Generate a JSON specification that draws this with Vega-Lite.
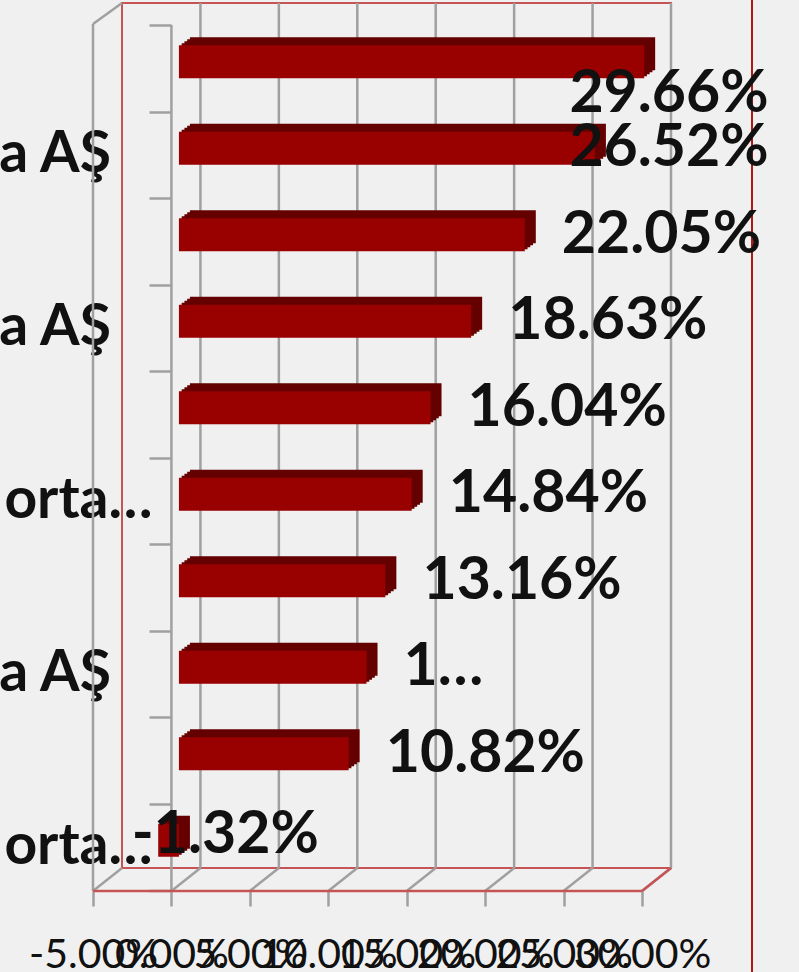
{
  "$schema": "https://vega.github.io/schema/vega-lite/v6.json",
  "width": 549,
  "height": 865,
  "autosize": {"type": "none"},
  "padding": {"left": 122, "top": 3, "right": 128, "bottom": 104},
  "background": "#f0f0f0",
  "config": {"view": {"stroke": "#c65454", "strokeWidth": 2}, "font": "Lato"},
  "datasets": {
    "getiri": [
      {"rank": 1, "deger": 0.2966, "etiket": "29.66%"},
      {"rank": 2, "deger": 0.2652, "etiket": "26.52%"},
      {"rank": 3, "deger": 0.2205, "etiket": "22.05%"},
      {"rank": 4, "deger": 0.1863, "etiket": "18.63%"},
      {"rank": 5, "deger": 0.1604, "etiket": "16.04%"},
      {"rank": 6, "deger": 0.1484, "etiket": "14.84%"},
      {"rank": 7, "deger": 0.1316, "etiket": "13.16%"},
      {"rank": 8, "deger": 0.1196, "etiket": "1…"},
      {"rank": 9, "deger": 0.1082, "etiket": "10.82%"},
      {"rank": 10, "deger": -0.0132, "etiket": "-1.32%"}
    ],
    "izgara": [
      {"v": -0.05}, {"v": 0}, {"v": 0.05}, {"v": 0.1}, {"v": 0.15}, {"v": 0.2}, {"v": 0.25}, {"v": 0.3}
    ],
    "tek": [{"k": 1}]
  },
  "layer": [
    {
      "layer": [
        {
          "data": {"name": "izgara"},
          "transform": [{"filter": "datum.v > -0.04"}],
          "mark": {"type": "rule", "color": "#a0a0a0", "strokeWidth": 2.5},
          "encoding": {"x": {"field": "v", "type": "quantitative"}}
        },
        {
          "data": {"name": "izgara"},
          "mark": {"type": "rule", "color": "#a0a0a0", "strokeWidth": 2.5, "xOffset": -29, "x2Offset": 0, "yOffset": 23, "y2Offset": 0},
          "encoding": {
            "x": {"field": "v", "type": "quantitative"},
            "x2": {"field": "v"},
            "y": {"value": "height"},
            "y2": {"value": "height"}
          }
        },
        {
          "data": {"name": "tek"},
          "mark": {"type": "rule", "color": "#c65454", "strokeWidth": 2.5, "xOffset": -29, "x2Offset": 0, "yOffset": 23, "y2Offset": 0},
          "encoding": {
            "x": {"datum": 0.3, "type": "quantitative"},
            "x2": {"datum": 0.3},
            "y": {"value": "height"},
            "y2": {"value": "height"}
          }
        },
        {
          "data": {"name": "tek"},
          "mark": {"type": "rule", "color": "#a0a0a0", "strokeWidth": 2.5, "xOffset": -29, "yOffset": 21, "y2Offset": 23},
          "encoding": {
            "x": {"datum": -0.05, "type": "quantitative"},
            "y": {"value": 0},
            "y2": {"value": "height"}
          }
        },
        {
          "data": {"name": "tek"},
          "mark": {"type": "rule", "color": "#a0a0a0", "strokeWidth": 2.5, "xOffset": -29, "x2Offset": 0, "yOffset": 21, "y2Offset": 0},
          "encoding": {
            "x": {"datum": -0.05, "type": "quantitative"},
            "x2": {"datum": -0.05},
            "y": {"value": 0},
            "y2": {"value": 0}
          }
        },
        {
          "data": {"name": "tek"},
          "mark": {"type": "rule", "color": "#a0a0a0", "strokeWidth": 2.5, "xOffset": -29, "yOffset": 22, "y2Offset": 23},
          "encoding": {
            "x": {"datum": 0, "type": "quantitative"},
            "y": {"value": 0},
            "y2": {"value": "height"}
          }
        },
        {
          "data": {"name": "tek"},
          "mark": {"type": "rule", "color": "#a0a0a0", "strokeWidth": 2.5, "xOffset": -51, "x2Offset": -29, "yOffset": 23, "y2Offset": 23},
          "encoding": {
            "x": {"datum": 0, "type": "quantitative"},
            "x2": {"datum": 0},
            "y": {"value": "height"},
            "y2": {"value": "height"}
          }
        },
        {
          "data": {"name": "tek"},
          "mark": {"type": "rule", "color": "#c65454", "strokeWidth": 2.5, "xOffset": -29, "x2Offset": -29, "yOffset": 23, "y2Offset": 23},
          "encoding": {
            "x": {"datum": -0.05, "type": "quantitative"},
            "x2": {"datum": 0.3},
            "y": {"value": "height"},
            "y2": {"value": "height"}
          }
        },
        {
          "data": {"name": "tek"},
          "mark": {"type": "rule", "color": "#b01818", "strokeWidth": 2, "xOffset": 81, "x2Offset": 81, "yOffset": -3, "y2Offset": 104},
          "encoding": {
            "x": {"value": "width"},
            "x2": {"value": "width"},
            "y": {"value": 0},
            "y2": {"value": "height"}
          }
        },
        {
          "data": {"name": "getiri"},
          "mark": {"type": "bar", "height": 33, "color": "#650000", "xOffset": -10.5, "x2Offset": -10.5, "yOffset": 7.5, "y2Offset": 7.5},
          "encoding": {
            "x": {"field": "deger", "type": "quantitative"},
            "y": {"field": "rank", "type": "ordinal"}
          }
        },
        {
          "data": {"name": "getiri"},
          "mark": {"type": "bar", "height": 33, "color": "#650000", "xOffset": -13.25, "x2Offset": -13.25, "yOffset": 9.5, "y2Offset": 9.5},
          "encoding": {
            "x": {"field": "deger", "type": "quantitative"},
            "y": {"field": "rank", "type": "ordinal"}
          }
        },
        {
          "data": {"name": "getiri"},
          "mark": {"type": "bar", "height": 33, "color": "#650000", "xOffset": -16, "x2Offset": -16, "yOffset": 11.5, "y2Offset": 11.5},
          "encoding": {
            "x": {"field": "deger", "type": "quantitative"},
            "y": {"field": "rank", "type": "ordinal"}
          }
        },
        {
          "data": {"name": "getiri"},
          "mark": {"type": "bar", "height": 33, "color": "#650000", "xOffset": -18.75, "x2Offset": -18.75, "yOffset": 13.5, "y2Offset": 13.5},
          "encoding": {
            "x": {"field": "deger", "type": "quantitative"},
            "y": {"field": "rank", "type": "ordinal"}
          }
        },
        {
          "data": {"name": "getiri"},
          "mark": {"type": "bar", "height": 33, "color": "#990000", "xOffset": -21.5, "x2Offset": -21.5, "yOffset": 15.5, "y2Offset": 15.5},
          "encoding": {
            "x": {
              "field": "deger",
              "type": "quantitative",
              "scale": {"domain": [-0.05, 0.3], "nice": false, "zero": false},
              "axis": {
                "title": null,
                "orient": "bottom",
                "offset": 23,
                "values": [-0.05, 0, 0.05, 0.1, 0.15, 0.2, 0.25, 0.3],
                "labelExpr": "replace(format(datum.value, '.2%'), '\u2212', '-')",
                "tickOffset": -29,
                "tickSize": 15,
                "tickColor": "#a0a0a0",
                "tickWidth": 2.5,
                "domain": false,
                "grid": false,
                "labelFont": "Lato",
                "labelFontSize": 41,
                "labelColor": "#111111",
                "labelPadding": 29,
                "labelOverlap": false,
                "labelFlush": false,
                "labelBound": false
              }
            },
            "y": {
              "field": "rank",
              "type": "ordinal",
              "sort": "ascending",
              "scale": {"paddingInner": 0, "paddingOuter": 0},
              "axis": {
                "title": null,
                "orient": "left",
                "offset": -49,
                "bandPosition": 0,
                "tickOffset": 22,
                "tickSize": 22,
                "tickColor": "#a0a0a0",
                "tickWidth": 2.5,
                "domain": false,
                "grid": false,
                "labelExpr": "datum.value == 2 || datum.value == 4 || datum.value == 8 ? 'a AŞ\u00a0\u00a0\u00a0\u2060' : (datum.value == 6 || datum.value == 10 ? 'orta…' : '')",
                "labelFont": "Lato",
                "labelFontWeight": "bold",
                "labelFontSize": 57,
                "labelColor": "#111111",
                "labelAlign": "right",
                "labelBaseline": "middle",
                "labelPadding": -3,
                "labelOffset": 0,
                "labelLimit": 0,
                "labelOverlap": false,
                "labelBound": false
              }
            }
          }
        }
      ]
    },
    {
      "data": {"name": "getiri"},
      "encoding": {
        "x": {
          "field": "deger",
          "type": "quantitative",
          "scale": {"domain": [-0.05, 0.2253], "range": [0, 431.8], "clamp": true, "nice": false, "zero": false},
          "axis": null
        },
        "y": {"field": "rank", "type": "ordinal", "sort": "ascending"},
        "text": {"field": "etiket", "type": "nominal"}
      },
      "layer": [
        {
          "transform": [{"filter": "datum.rank == 1"}],
          "mark": {"type": "text", "align": "left", "baseline": "middle", "dx": 15.6, "dy": 47.5, "font": "Lato", "fontWeight": "bold", "fontSize": 59, "color": "#111111"}
        },
        {
          "transform": [{"filter": "datum.rank > 1 && datum.deger > 0"}],
          "mark": {"type": "text", "align": "left", "baseline": "middle", "dx": 15.6, "dy": 15.5, "font": "Lato", "fontWeight": "bold", "fontSize": 59, "color": "#111111"}
        },
        {
          "transform": [{"filter": "datum.deger < 0"}],
          "mark": {"type": "text", "align": "left", "baseline": "middle", "dx": -48, "dy": 10, "font": "Lato", "fontWeight": "bold", "fontSize": 59, "color": "#111111"}
        }
      ]
    }
  ],
  "resolve": {"scale": {"x": "independent"}}
}
